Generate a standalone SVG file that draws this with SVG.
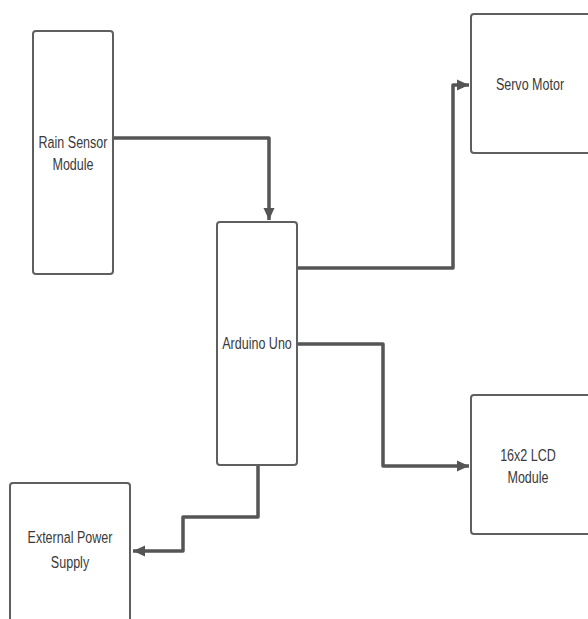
<svg xmlns="http://www.w3.org/2000/svg" width="588" height="619" viewBox="0 0 588 619">
<style>
.box{fill:#fff;stroke:#5f5f5f;stroke-width:2}
.lbl{font-family:"Liberation Sans",Arial,sans-serif;font-size:16.5px;fill:#3a3a3a;text-anchor:middle}
.wire{fill:none;stroke:#555;stroke-width:3.5;stroke-linejoin:round}
</style>
<defs>
<marker id="ah" viewBox="0 0 12 12" refX="12" refY="6" markerWidth="12" markerHeight="12" markerUnits="userSpaceOnUse" orient="auto">
<path d="M0,0.5 L12,6 L0,11.5 z" fill="#555"/>
</marker>
</defs>
<rect width="588" height="619" fill="#fff"/>
<g id="connectors">
<path class="wire" d="M113,138 H269 V220" marker-end="url(#ah)"/>
<path class="wire" d="M297,268 H453 V85 H469" marker-end="url(#ah)"/>
<path class="wire" d="M297,344 H383 V466 H469" marker-end="url(#ah)"/>
<path class="wire" d="M258,465 V517 H183 V551 H133" marker-end="url(#ah)"/>
</g>
<g id="rain">
<rect class="box" x="33" y="31" width="80" height="243" rx="3"/>
<text class="lbl" transform="translate(73,148) scale(0.76,1)">Rain Sensor</text>
<text class="lbl" transform="translate(73,170) scale(0.76,1)">Module</text>
</g>
<g id="arduino">
<rect class="box" x="217" y="222" width="80" height="243" rx="3"/>
<text class="lbl" transform="translate(257,349) scale(0.76,1)">Arduino Uno</text>
</g>
<g id="servo">
<rect class="box" x="471" y="14" width="120" height="139" rx="3"/>
<text class="lbl" transform="translate(530,90) scale(0.76,1)">Servo Motor</text>
</g>
<g id="lcd">
<rect class="box" x="471" y="395" width="120" height="139" rx="3"/>
<text class="lbl" transform="translate(528,461) scale(0.76,1)">16x2 LCD</text>
<text class="lbl" transform="translate(528,483) scale(0.76,1)">Module</text>
</g>
<g id="power">
<rect class="box" x="10" y="483" width="120" height="150" rx="3"/>
<text class="lbl" transform="translate(70,543) scale(0.76,1)">External Power</text>
<text class="lbl" transform="translate(70,568) scale(0.76,1)">Supply</text>
</g>
</svg>
